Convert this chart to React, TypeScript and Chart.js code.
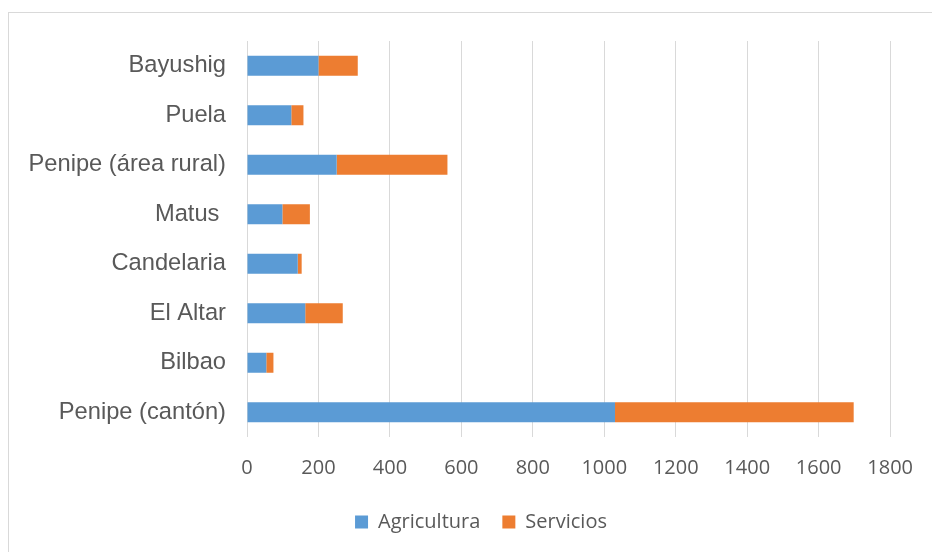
import React, { useEffect, useRef } from "react";
import { Chart, registerables } from "chart.js";

Chart.register(...registerables);

const categories = [
  "Bayushig",
  "Puela",
  "Penipe (área rural)",
  "Matus ",
  "Candelaria",
  "El Altar",
  "Bilbao",
  "Penipe (cantón)",
];
const agricultura = [200, 124, 251, 99, 142, 163, 54, 1030];
const servicios = [110, 34, 310, 77, 11, 105, 20, 668];
const xMin = 0;
const xMax = 1800;
const xStep = 200;

const frame = {
  id: "frame",
  beforeDraw(chart: any) {
    const ctx = chart.ctx;
    ctx.save();
    ctx.fillStyle = "#ffffff";
    ctx.fillRect(0, 0, chart.width, chart.height);
    ctx.strokeStyle = "#d9d9d9";
    ctx.lineWidth = 1;
    ctx.strokeRect(8.5, 12.5, chart.width + 20, chart.height + 20);
    ctx.restore();
  },
  afterLayout(chart: any) {
    const lg = chart.legend;
    if (lg) {
      lg.left += 70;
    }
  },
};

export default function App() {
  const ref = useRef<HTMLCanvasElement | null>(null);
  useEffect(() => {
    document.body.style.margin = "0";
    if (!ref.current) return;
    const chart = new Chart(ref.current, {
      type: "bar",
      data: {
        labels: categories,
        datasets: [
          {
            label: "Agricultura",
            data: agricultura,
            backgroundColor: "#5b9bd5",
            barPercentage: 0.4,
            categoryPercentage: 1,
          },
          {
            label: "Servicios",
            data: servicios,
            backgroundColor: "#ed7d31",
            barPercentage: 0.4,
            categoryPercentage: 1,
          },
        ],
      },
      options: {
        indexAxis: "y",
        responsive: false,
        animation: false,
        layout: { padding: { left: 0, right: 40, top: 41, bottom: 10 } },
        plugins: {
          legend: {
            position: "bottom",
            labels: {
              boxWidth: 13,
              boxHeight: 13,
              padding: 22,
              color: "#595959",
              font: { family: "'Open Sans'", size: 20 },
            },
          },
          tooltip: { enabled: false },
        },
        scales: {
          x: {
            stacked: true,
            min: xMin,
            max: xMax,
            ticks: {
              stepSize: xStep,
              color: "#595959",
              padding: 19,
              font: { family: "'Open Sans'", size: 20 },
              callback: (v: any) => String(v),
            },
            grid: { color: "#d9d9d9", lineWidth: 1, drawTicks: false },
            border: { display: false },
            afterFit(scale: any) {
              scale.height = 53;
            },
          },
          y: {
            stacked: true,
            ticks: {
              color: "#595959",
              padding: 21,
              font: { family: "'Liberation Sans'", size: 23.7 },
            },
            grid: { display: false, drawTicks: false },
            border: { display: false },
            afterFit(scale: any) {
              scale.width = 247;
            },
          },
        },
      },
      plugins: [frame],
    });
    return () => chart.destroy();
  }, []);
  return (
    <div style={{ width: 932, height: 552 }}>
      <canvas ref={ref} width={932} height={552} />
    </div>
  );
}
